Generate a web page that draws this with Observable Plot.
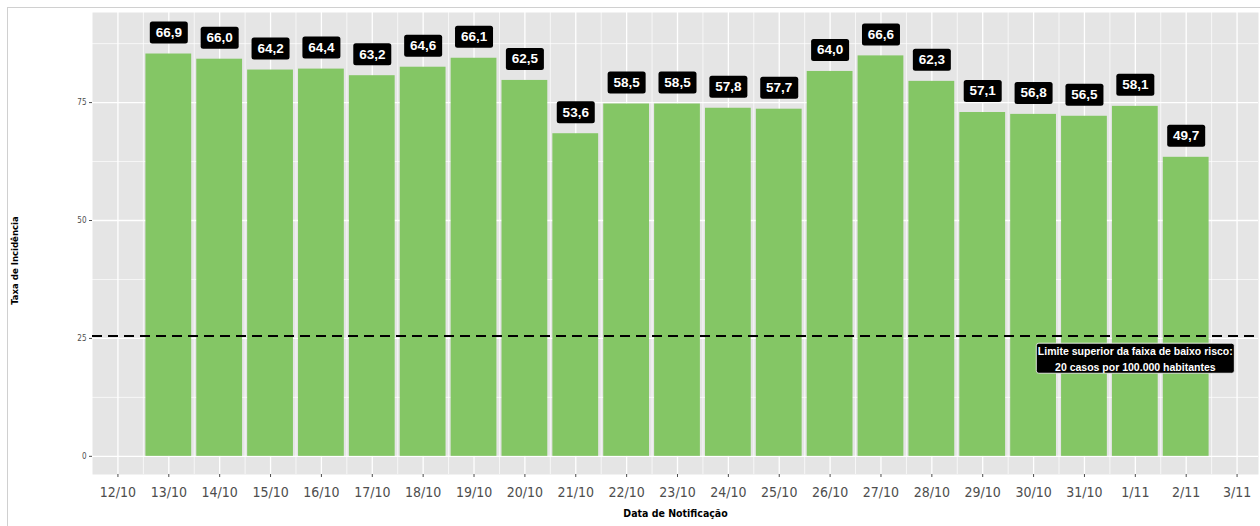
<!DOCTYPE html>
<html>
<head>
<meta charset="utf-8">
<script src="https://cdn.jsdelivr.net/npm/d3@7"></script>
<script src="https://cdn.jsdelivr.net/npm/@observablehq/plot@0.6"></script>
<style>
  html, body { margin: 0; padding: 0; background: #fff; }
  #wrap { position: relative; width: 1260px; height: 526px; overflow: hidden; }
  #border { position: absolute; left: 7px; top: 7px; width: 1270px; height: 540px; border: 1px solid #d0d0d0; box-sizing: border-box; }
  #chart { position: absolute; left: 0; top: 0; }
  #chart svg { font-stretch: condensed; }
</style>
</head>
<body>
<div id="wrap"><div id="border"></div><div id="chart"></div></div>
<script>
// ---- data ----
const dates = ["12/10","13/10","14/10","15/10","16/10","17/10","18/10","19/10","20/10","21/10","22/10","23/10","24/10","25/10","26/10","27/10","28/10","29/10","30/10","31/10","1/11","2/11","3/11"];
const barDates = ["13/10","14/10","15/10","16/10","17/10","18/10","19/10","20/10","21/10","22/10","23/10","24/10","25/10","26/10","27/10","28/10","29/10","30/10","31/10","1/11","2/11"];
// bar heights as read on the drawn y axis
const barHeights = [85.3, 84.2, 81.9, 82.1, 80.7, 82.5, 84.4, 79.7, 68.4, 74.7, 74.7, 73.8, 73.6, 81.6, 84.9, 79.5, 72.9, 72.5, 72.1, 74.2, 63.4];
// values printed in the labels
const barLabels = ["66,9","66,0","64,2","64,4","63,2","64,6","66,1","62,5","53,6","58,5","58,5","57,8","57,7","64,0","66,6","62,3","57,1","56,8","56,5","58,1","49,7"];
const yTicks = [0, 25, 50, 75];
const yMinor = [12.5, 37.5, 62.5, 87.5];
const threshold = [25.5];
const noteText = ["Limite superior da faixa de baixo risco:\n20 casos por 100.000 habitantes"];
const noteDate = ["1/11"];
const noteY = [20.8];

const bars = barDates.map((d, i) => ({date: d, h: barHeights[i], label: barLabels[i]}));

// ---- layout ----
const W = 1260, H = 526;
const mL = 92, mR = 2, mT = 12, mB = 52;
const xRange = [92, 1262];
const step = (xRange[1] - xRange[0]) / dates.length;

function roundRect(w, h, r) {
  return {
    draw(ctx) {
      const x0 = -w / 2, y0 = -h / 2, x1 = w / 2, y1 = h / 2;
      ctx.moveTo(x0 + r, y0);
      ctx.lineTo(x1 - r, y0);
      ctx.arcTo(x1, y0, x1, y0 + r, r);
      ctx.lineTo(x1, y1 - r);
      ctx.arcTo(x1, y1, x1 - r, y1, r);
      ctx.lineTo(x0 + r, y1);
      ctx.arcTo(x0, y1, x0, y1 - r, r);
      ctx.lineTo(x0, y0 + r);
      ctx.arcTo(x0, y0, x0 + r, y0, r);
      ctx.closePath();
    }
  };
}

const axisFont = "'DejaVu Sans Condensed', 'DejaVu Sans', sans-serif";
const boldFont = "'Liberation Sans', Arial, sans-serif";

const chart = Plot.plot({
  width: W,
  height: H,
  marginLeft: mL,
  marginRight: mR,
  marginTop: mT,
  marginBottom: mB,
  style: {fontFamily: axisFont, background: "transparent", overflow: "hidden"},
  x: {type: "band", domain: dates, range: xRange, round: false, paddingInner: 0.1, paddingOuter: 0.05},
  y: {domain: [-3.85, 94.1]},
  marks: [
    Plot.frame({fill: "#e5e5e5", stroke: null}),
    Plot.ruleY(yMinor, {stroke: "#ffffff", strokeWidth: 0.7}),
    Plot.ruleY(yTicks, {stroke: "#ffffff", strokeWidth: 1.3}),
    Plot.ruleX(dates.slice(0, -1), {stroke: "#ffffff", strokeWidth: 0.7, dx: step / 2}),
    Plot.ruleX(dates, {stroke: "#ffffff", strokeWidth: 1.3}),
    Plot.barY(bars, {x: "date", y: "h", fill: "#84c665"}),
    Plot.ruleY(threshold, {stroke: "#000000", strokeWidth: 2, strokeDasharray: "10,6"}),
    Plot.dot(bars, {x: "date", y: "h", dy: -21.5, r: 1, symbol: roundRect(38, 22, 2.5), fill: "#000000", stroke: null}),
    Plot.text(bars, {x: "date", y: "h", dy: -21.5, text: "label", fill: "#ffffff", fontSize: 13.5, fontWeight: "bold", fontFamily: boldFont}),
    Plot.dot(noteText, {x: noteDate, y: noteY, dx: 0, r: 1, symbol: roundRect(198, 30, 2.5), fill: "#000000", stroke: "#ffffff", strokeWidth: 0.8}),
    Plot.text(noteText, {x: noteDate, y: noteY, dx: 0, text: d => d, fill: "#ffffff", fontSize: 10.5, fontWeight: "bold", fontFamily: boldFont, lineHeight: 1.45}),
    Plot.axisY({ticks: yTicks, tickSize: 3, tickPadding: 3, fontSize: 8, color: "#4d4d4d", label: null}),
    Plot.axisX({tickSize: 3, tickPadding: 10, fontSize: 14, color: "#4d4d4d", label: null}),
    Plot.text(["Taxa de Incidência"], {frameAnchor: "left", textAnchor: "middle", dx: -78, dy: 17, rotate: -90, fontSize: 9.5, fontWeight: "bold", fill: "#000000"}),
    Plot.text(["Data de Notificação"], {frameAnchor: "bottom", dy: 42, fontSize: 10.5, fontWeight: "bold", fill: "#000000"})
  ]
});
document.getElementById("chart").appendChild(chart);
</script>
</body>
</html>
